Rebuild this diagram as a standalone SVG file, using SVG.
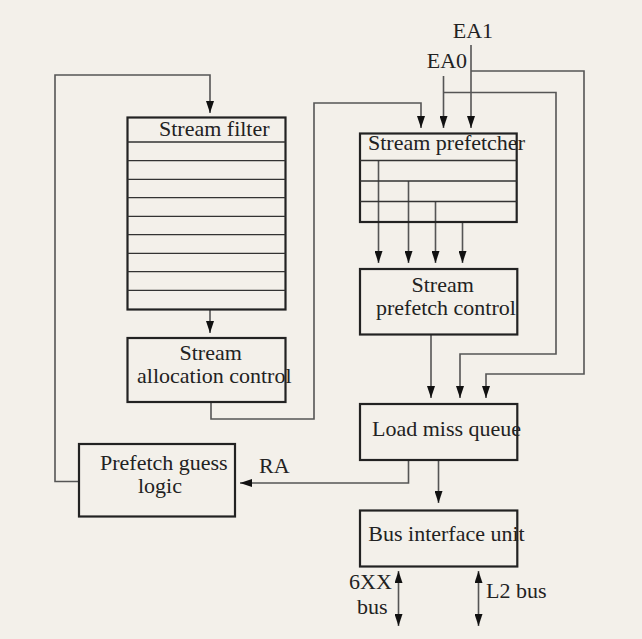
<svg xmlns="http://www.w3.org/2000/svg" width="642" height="639" viewBox="0 0 642 639">
<style>
.box{fill:none;stroke:#222;stroke-width:2.2}
.row{fill:none;stroke:#333;stroke-width:1.3}
.ln{fill:none;stroke:#555;stroke-width:1.6}
.arr{marker-end:url(#ah)}
.dbl{marker-start:url(#ah);marker-end:url(#ah)}
text{font-family:"Liberation Serif","Times New Roman",serif;font-size:22px;fill:#222}
</style>
<defs>
<marker id="ah" viewBox="0 0 12 8" refX="12" refY="4" markerWidth="12" markerHeight="8" markerUnits="userSpaceOnUse" orient="auto-start-reverse">
<path d="M0,0 L12,4 L0,8 Z" fill="#111"/>
</marker>
</defs>
<rect x="0" y="0" width="642" height="639" fill="#f3f0ea"/>

<g id="connectors">
<path class="ln arr" d="M79,481.5 H55 V75 H210 V113"/>
<path class="ln arr" d="M210,309.5 V333"/>
<path class="ln arr" d="M211,402 V419 H314 V103 H421 V128"/>
<path class="ln arr" d="M443.5,76 V128"/>
<path class="ln arr" d="M443.5,92.5 H556 V354 H460 V398"/>
<path class="ln arr" d="M471,45 V128"/>
<path class="ln arr" d="M471,71 H584 V374 H486 V398"/>
<path class="ln arr" d="M378.5,160.5 V263"/>
<path class="ln arr" d="M408.5,181 V263"/>
<path class="ln arr" d="M435.5,201.5 V263"/>
<path class="ln arr" d="M462.5,222 V263"/>
<path class="ln arr" d="M431,334.5 V398"/>
<path class="ln arr" d="M438.5,460 V503"/>
<path class="ln arr" d="M408.5,460 V483 H240"/>
<path class="ln dbl" d="M398.5,571 V626"/>
<path class="ln dbl" d="M478.5,571 V626"/>
</g>

<g id="labels">
<text x="452.7" y="38">EA1</text>
<text x="426.7" y="68">EA0</text>
<text x="259" y="473">RA</text>
<text x="349" y="589.3">6XX</text>
<text x="357" y="614.3">bus</text>
<text x="486" y="597.7">L2 bus</text>
</g>

<g id="stream-filter">
<rect class="box" x="127.5" y="117.5" width="158" height="192"/>
<path class="row" d="M127.5,142 H285.5 M127.5,160.7 H285.5 M127.5,179.3 H285.5 M127.5,197.7 H285.5 M127.5,216.3 H285.5 M127.5,234.7 H285.5 M127.5,253.3 H285.5 M127.5,271.7 H285.5 M127.5,290.3 H285.5"/>
<text x="159" y="135.5">Stream filter</text>
</g>

<g id="stream-allocation-control">
<rect class="box" x="127.5" y="338" width="158" height="64"/>
<text x="179.5" y="360">Stream</text>
<text x="137" y="383">allocation control</text>
</g>

<g id="prefetch-guess-logic">
<rect class="box" x="79" y="444" width="156" height="72.5"/>
<text x="100" y="470">Prefetch guess</text>
<text x="138" y="493">logic</text>
</g>

<g id="stream-prefetcher">
<rect class="box" x="360" y="133.5" width="156.7" height="88.5"/>
<path class="row" d="M360,160.5 H516.7 M360,181 H516.7 M360,201.5 H516.7"/>
<text x="368" y="150">Stream prefetcher</text>
</g>

<g id="stream-prefetch-control">
<rect class="box" x="360" y="269" width="157.3" height="65.5"/>
<text x="411.5" y="292">Stream</text>
<text x="376" y="315.2">prefetch control</text>
</g>

<g id="load-miss-queue">
<rect class="box" x="360" y="404" width="157.3" height="56"/>
<text x="372" y="436">Load miss queue</text>
</g>

<g id="bus-interface-unit">
<rect class="box" x="360" y="510.5" width="157.3" height="56"/>
<text x="368.3" y="540.7">Bus interface unit</text>
</g>
</svg>
